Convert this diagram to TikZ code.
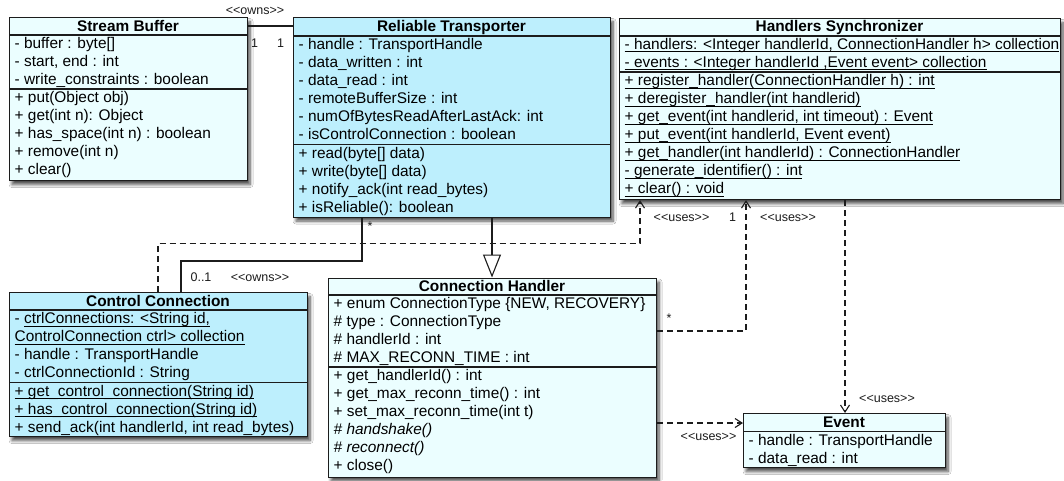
\documentclass[tikz,border=0pt]{standalone}
\usepackage{fontspec}
\setmainfont{Liberation Sans}
\usetikzlibrary{arrows.meta,shadows.blur}
\definecolor{pale}{HTML}{EBFEFF}
\definecolor{deep}{HTML}{BDEFFD}
\definecolor{ink}{HTML}{1C1C1C}
\newcommand\ulx[1]{\setbox0\hbox{#1}\rlap{\vrule height -2.1pt depth 3.1pt width \wd0}\box0}
\newcommand\gm[1]{<\kern0pt<#1>\kern0pt>}
\newcommand\txt[4]{\node[rowtext] (#1) at (#2,#3) {#4};}
\tikzset{
 box/.style={draw=ink, line width=1.1pt, rectangle, inner sep=0pt, anchor=north west,
   blur shadow={shadow xshift=2.5pt, shadow yshift=-4pt, shadow blur steps=8, shadow opacity=70, shadow blur radius=3pt}},
 rowtext/.style={anchor=base west, inner sep=0pt, font=\fontsize{15.4}{18}\selectfont, text=black},
 ttl/.style={anchor=base, inner sep=0pt, font=\fontsize{15.4}{18}\selectfont\bfseries, text=black},
 lbl/.style={inner sep=0pt, font=\fontsize{12.5}{14}\selectfont, text=ink},
 num/.style={inner sep=0pt, font=\fontsize{12.5}{14}\selectfont, text=ink},
 sep/.style={draw=ink, line width=1.1pt},
 assoc/.style={draw=ink, line width=1.1pt},
 dep/.style={draw=ink, line width=1.1pt, dash pattern=on 6pt off 4pt, -{Straight Barb[length=7pt,width=9pt]}},
 gen/.style={draw=ink, line width=1.1pt, -{Triangle[open, length=23pt, width=18pt, fill=white]}},
}
\begin{document}
\begin{tikzpicture}[x=1pt,y=-1pt]
\fill[white] (0,0) rectangle (1064,480);
\useasboundingbox (0,0) rectangle (1064,480);

% ---------- Stream Buffer
\node[box, fill=pale, minimum width=238pt, minimum height=163pt] (sb) at (9,17) {};
\node[ttl] (sbt) at (128,31) {Stream Buffer};
\draw[sep] (sb.west |- 0,35) -- (sb.east |- 0,35);
\draw[sep] (sb.west |- 0,89) -- (sb.east |- 0,89);
\txt{sb1}{14.5}{48.5}{- buffer : byte[]}
\txt{sb2}{14.5}{66.5}{- start, end : int}
\txt{sb3}{14.5}{84.5}{- write\_constraints : boolean}
\txt{sb4}{14.5}{102.5}{+ put(Object obj)}
\txt{sb5}{14.5}{120.5}{+ get(int n): Object}
\txt{sb6}{14.5}{138.5}{+ has\_space(int n) : boolean}
\txt{sb7}{14.5}{156.5}{+ remove(int n)}
\txt{sb8}{14.5}{174.5}{+ clear()}

% ---------- Reliable Transporter
\node[box, fill=deep, minimum width=317pt, minimum height=199.5pt] (rt) at (293,17) {};
\node[ttl] (rtt) at (451.5,31.5) {Reliable Transporter};
\draw[sep] (rt.west |- 0,36) -- (rt.east |- 0,36);
\draw[sep] (rt.west |- 0,144.5) -- (rt.east |- 0,144.5);
\txt{rt1}{298.5}{49.5}{- handle : TransportHandle}
\txt{rt2}{298.5}{67.5}{- data\_written : int}
\txt{rt3}{298.5}{85.5}{- data\_read : int}
\txt{rt4}{298.5}{103.5}{- remoteBufferSize : int}
\txt{rt5}{298.5}{121.5}{- numOfBytesReadAfterLastAck: int}
\txt{rt6}{298.5}{139.5}{- isControlConnection : boolean}
\txt{rt7}{298.5}{158}{+ read(byte[] data)}
\txt{rt8}{298.5}{176}{+ write(byte[] data)}
\txt{rt9}{298.5}{194}{+ notify\_ack(int read\_bytes)}
\txt{rt10}{298.5}{212}{+ isReliable(): boolean}

% ---------- Handlers Synchronizer
\node[box, fill=pale, minimum width=441pt, minimum height=181pt] (hs) at (619,18) {};
\node[ttl] (hst) at (839.5,31.5) {Handlers Synchronizer};
\draw[sep] (hs.west |- 0,36) -- (hs.east |- 0,36);
\draw[sep] (hs.west |- 0,72) -- (hs.east |- 0,72);
\txt{hs1}{624.5}{49}{\ulx{- handlers: <Integer handlerId, ConnectionHandler h> collection}}
\txt{hs2}{624.5}{67}{\ulx{- events : <Integer handlerId ,Event event> collection}}
\txt{hs3}{624.5}{85.5}{\ulx{+ register\_handler(ConnectionHandler h) : int}}
\txt{hs4}{624.5}{103.5}{\ulx{+ deregister\_handler(int handlerid)}}
\txt{hs5}{624.5}{121.5}{\ulx{+ get\_event(int handlerid, int timeout) : Event}}
\txt{hs6}{624.5}{139.5}{\ulx{+ put\_event(int handlerId, Event event)}}
\txt{hs7}{624.5}{157.5}{\ulx{+ get\_handler(int handlerId) : ConnectionHandler}}
\txt{hs8}{624.5}{175.5}{\ulx{- generate\_identifier() : int}}
\txt{hs9}{624.5}{193.5}{\ulx{+ clear() : void}}

% ---------- Control Connection
\node[box, fill=deep, minimum width=298pt, minimum height=144pt] (cc) at (9,292) {};
\node[ttl] (cct) at (158,306) {Control Connection};
\draw[sep] (cc.west |- 0,310) -- (cc.east |- 0,310);
\draw[sep] (cc.west |- 0,382.5) -- (cc.east |- 0,382.5);
\txt{cc1}{14.5}{323.5}{- \ulx{ctrlConnections: <String id,}}
\txt{cc2}{14.5}{341.5}{\ulx{ControlConnection ctrl> collection}}
\txt{cc3}{14.5}{359.5}{- handle : TransportHandle}
\txt{cc4}{14.5}{377.5}{- ctrlConnectionId : String}
\txt{cc5}{14.5}{396}{\ulx{+ get\_control\_connection(String id)}}
\txt{cc6}{14.5}{414}{\ulx{+ has\_control\_connection(String id)}}
\txt{cc7}{14.5}{432}{+ send\_ack(int handlerId, int read\_bytes)}

% ---------- Connection Handler
\node[box, fill=pale, minimum width=328pt, minimum height=199pt] (ch) at (328,277.5) {};
\node[ttl] (cht) at (492,291) {Connection Handler};
\draw[sep] (ch.west |- 0,295) -- (ch.east |- 0,295);
\draw[sep] (ch.west |- 0,367) -- (ch.east |- 0,367);
\txt{ch1}{333.5}{308.5}{+ enum ConnectionType \{NEW, RECOVERY\}}
\txt{ch2}{333.5}{326.5}{\# type : ConnectionType}
\txt{ch3}{333.5}{344.5}{\# handlerId : int}
\txt{ch4}{333.5}{362.5}{\# MAX\_RECONN\_TIME : int}
\txt{ch5}{333.5}{380.5}{+ get\_handlerId() : int}
\txt{ch6}{333.5}{398.5}{+ get\_max\_reconn\_time() : int}
\txt{ch7}{333.5}{416.5}{+ set\_max\_reconn\_time(int t)}
\txt{ch8}{333.5}{434.5}{\textit{\# handshake()}}
\txt{ch9}{333.5}{452.5}{\textit{\# reconnect()}}
\txt{ch10}{333.5}{470.5}{+ close()}

% ---------- Event
\node[box, fill=pale, minimum width=202pt, minimum height=54pt] (ev) at (743,413) {};
\node[ttl] (evt) at (844,427) {Event};
\draw[sep] (ev.west |- 0,431.5) -- (ev.east |- 0,431.5);
\txt{ev1}{748.5}{445}{- handle : TransportHandle}
\txt{ev2}{748.5}{463}{- data\_read : int}

% ---------- connectors
\draw[assoc] (sb.east |- 0,26) -- (rt.west |- 0,26);
\node[num] (m1) at (254.5,43) {1};
\node[num] (m2) at (280.5,43) {1};
\node[lbl] (o1) at (255,10.5) {\gm{owns}};

\draw[gen] (rt.south -| 492,0) -- (ch.north -| 492,0);

\coordinate (k1) at (362,261);
\draw[assoc] (rt.south -| k1) -- (k1) -| (cc.north -| 181,0);
\node[num] (s1) at (370,226) {*};
\node[num] (z1) at (201,277.5) {0..1};
\node[lbl] (o2) at (260,278) {\gm{owns}};

\coordinate (k2) at (158,243.5);
\draw[dep] (cc.north -| k2) -- (k2) -| (hs.south -| 640,0);
\node[lbl] (u1) at (681.5,217.5) {\gm{uses}};

\draw[dep] (ch.east |- 0,331) -| (hs.south -| 746,0);
\node[num] (s2) at (669,318) {*};
\node[num] (m3) at (732.5,217.5) {1};
\node[lbl] (u2) at (788,217.5) {\gm{uses}};

\draw[dep] (hs.south -| 845,0) -- (ev.north -| 845,0);
\node[lbl] (u3) at (887,399) {\gm{uses}};

\draw[dep] (ch.east |- 0,423) -- (ev.west |- 0,423);
\node[lbl] (u4) at (708.5,436.5) {\gm{uses}};
\end{tikzpicture}
\end{document}
